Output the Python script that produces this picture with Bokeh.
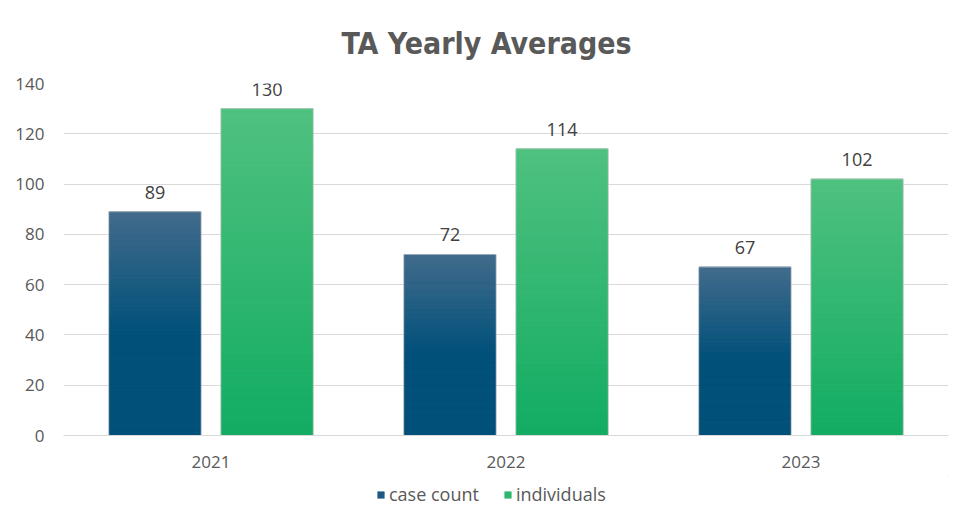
from bokeh.plotting import figure
from bokeh.models import ColumnDataSource, FactorRange, Legend, LegendItem, Range1d
from bokeh.layouts import column
from bokeh.transform import dodge
from bokeh.core.properties import value
from bokeh.embed import file_html
from bokeh.resources import INLINE

years = ["2021", "2022", "2023"]
case_count = [89, 72, 67]
individuals = [130, 114, 102]
y_ticks = [0, 20, 40, 60, 80, 100, 120, 140]
series_names = ["case count", "individuals"]

FONT = "Open Sans"
TITLE_FONT = "DejaVu Sans Condensed"

W, H_MAIN, H_LEG = 958, 475, 42
p = figure(x_range=FactorRange(*years), y_range=Range1d(0, 140),
           width=W, height=H_MAIN, output_backend="svg", toolbar_location=None,
           min_border_left=63, min_border_right=10, min_border_top=83, min_border_bottom=40,
           title="TA Yearly Averages")
p.outline_line_color = None
p.background_fill_color = "white"
p.border_fill_color = "white"

p.title.align = "left"
p.title.offset = 278
p.title.text_font = TITLE_FONT
p.title.text_font_size = "30px"
p.title.text_font_style = "bold"
p.title.text_color = "#595959"
p.title.standoff = 46

def hex2rgb(h):
    h = h.lstrip("#")
    return tuple(int(h[i:i+2], 16) for i in (0, 2, 4))

def mix(c1, c2, t):
    a, b = hex2rgb(c1), hex2rgb(c2)
    return "#%02x%02x%02x" % tuple(int(round(a[i] + (b[i] - a[i]) * t)) for i in range(3))

N = 40
BW = 0.31
OFF = 0.19

def gradient_bars(vals, offset, top_col, bot_col, solid_frac):
    for k in range(N):
        f0, f1 = k / N, (k + 1) / N
        fm = (f0 + f1) / 2
        if fm <= solid_frac:
            c = bot_col
        else:
            t = (fm - solid_frac) / (1 - solid_frac)
            c = mix(bot_col, top_col, t)
        src = ColumnDataSource(dict(x=years, top=[v * f1 for v in vals], bottom=[v * f0 for v in vals]))
        p.vbar(x=dodge("x", offset, range=p.x_range), top="top", bottom="bottom", width=BW,
               source=src, fill_color=c, line_color=c, line_width=1)
    src = ColumnDataSource(dict(x=years, top=vals))
    p.vbar(x=dodge("x", offset, range=p.x_range), top="top", bottom=0, width=BW + 0.004,
           source=src, fill_color=None, line_color="#c8c8c8", line_width=1, line_alpha=0.7)

gradient_bars(case_count, -OFF, "#416b8b", "#00507a", 0.45)
gradient_bars(individuals, OFF, "#4fc17f", "#12ac62", 0.0)

lab = ColumnDataSource(dict(x=years, c=case_count, i=individuals,
                            ct=[str(v) for v in case_count], it=[str(v) for v in individuals]))
p.text(x=dodge("x", -OFF, range=p.x_range), y="c", text="ct", source=lab, text_align="center",
       text_baseline="bottom", y_offset=-13, text_font=value(FONT), text_font_size="18px", text_color="#404040")
p.text(x=dodge("x", OFF, range=p.x_range), y="i", text="it", source=lab, text_align="center",
       text_baseline="bottom", y_offset=-13, text_font=value(FONT), text_font_size="18px", text_color="#404040")

p.yaxis.ticker = y_ticks
p.yaxis.axis_line_color = None
p.yaxis.major_tick_line_color = None
p.yaxis.minor_tick_line_color = None
p.yaxis.major_label_standoff = 13
p.yaxis.major_label_text_font = FONT
p.yaxis.major_label_text_font_size = "17px"
p.yaxis.major_label_text_color = "#595959"

p.xaxis.axis_line_color = "#d9d9d9"
p.xaxis.major_tick_line_color = None
p.xaxis.minor_tick_line_color = None
p.xaxis.major_label_standoff = 14
p.xaxis.major_label_text_font = FONT
p.xaxis.major_label_text_font_size = "17px"
p.xaxis.major_label_text_color = "#595959"

p.xgrid.grid_line_color = None
p.ygrid.grid_line_color = "#d9d9d9"
p.ygrid.grid_line_width = 1

# legend strip
q = figure(width=W, height=H_LEG, output_backend="svg", toolbar_location=None,
           x_range=Range1d(0, 1), y_range=Range1d(0, 1),
           min_border_left=0, min_border_right=0, min_border_top=0, min_border_bottom=0)
q.axis.visible = False
q.grid.visible = False
q.outline_line_color = None
q.border_fill_color = "white"
r1 = q.vbar(x=[5], top=[5], bottom=[4], width=0.1, fill_color="#1f5780", line_color=None)
r2 = q.vbar(x=[6], top=[5], bottom=[4], width=0.1, fill_color="#2eb86f", line_color=None)
legend = Legend(items=[LegendItem(label=series_names[0], renderers=[r1]),
                       LegendItem(label=series_names[1], renderers=[r2])],
                orientation="horizontal", location=(313, 11),
                label_text_font=FONT, label_text_font_size="18px", label_text_color="#595959",
                glyph_width=9, glyph_height=9, spacing=24, label_standoff=4,
                background_fill_alpha=0, border_line_color=None, padding=0, margin=0)
q.add_layout(legend, "center")

layout = column(p, q, spacing=0)
open("out.html", "w").write(file_html(layout, INLINE))
